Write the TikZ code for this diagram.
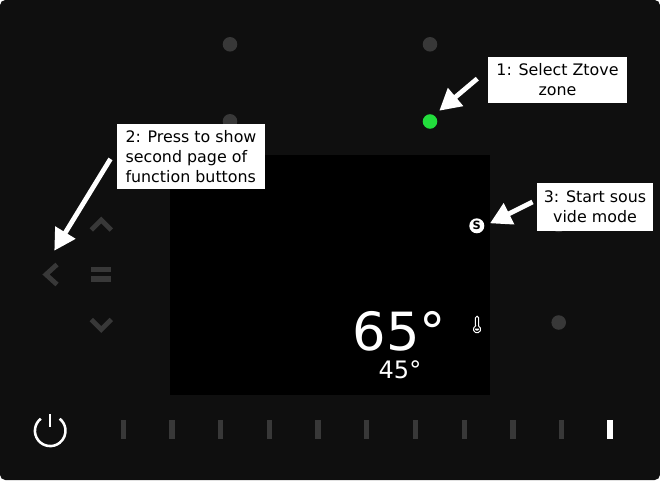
\documentclass[tikz,border=0pt]{standalone}
\usepackage{fontspec}
\setmainfont{DejaVu Sans}
\usepackage{tikz}
\usetikzlibrary{arrows.meta}
\definecolor{panelgray}{HTML}{0F0F0F}
\definecolor{keygray}{HTML}{383838}
\definecolor{zonegreen}{HTML}{22DD3C}
\tikzset{note/.style = {fill = white, text = black, inner sep = 0, font = \fontsize{11.9}{15}\selectfont, align = center}}
\tikzset{callout/.style = {-{Triangle[length = 16, width = 17]}, draw = white, line width = 3.6}}
\tikzset{hob/.style = {fill = keygray, circle, inner sep = 0, minimum size = 10.9}}
\tikzset{chevron/.style = {draw = keygray, line width = 3.6, line cap = butt, miter limit = 10}}
\tikzset{bar/.style = {fill = keygray, inner sep = 0, minimum width = 4, minimum height = 14.5}}

\begin{document}
\begin{tikzpicture}[x = 0.75pt, y = -0.75pt]
      \useasboundingbox (0, 0) rectangle (660, 480);
      \fill [white] (0, 0) rectangle (660, 480);
      \fill [panelgray, rounded corners = 4] (0, 0) rectangle (660, 480);
      \fill [black] (170, 155) rectangle (490, 395);

      \node [hob] (zoneA) at (230, 44.3) {};
      \node [hob] (zoneB) at (430, 44.3) {};
      \node [hob] (zoneC) at (230, 121.3) {};
      \node [hob, fill = zonegreen] (zoneD) at (430, 121.5) {};
      \node [hob] (zoneE) at (558.7, 225) {};
      \node [hob] (zoneF) at (558.7, 322.5) {};

      \draw [chevron] (91.3, 230) -- (101.3, 220) -- (111.3, 230);
      \draw [chevron] (91.3, 319.5) -- (101.3, 329.5) -- (111.3, 319.5);
      \draw [chevron] (57, 264.5) -- (46, 274.5) -- (57, 284.5);
      \fill [keygray] (91.3, 266.7) rectangle (111, 272.3);
      \fill [keygray] (91.3, 276) rectangle (111, 281.7);

      % power key
      \draw [white, line width = 1.9] (40.8, 418.7) arc [start angle = 232, end angle = -52, radius = 15.3];
      \draw [white, line width = 1.5] (50.2, 414) -- (50.2, 426.7);

      % slider
      \foreach \n in {123.3, 172, 220.7, 269.4, 318.1, 366.8, 415.5, 464.2, 512.9, 561.6}
        \node [bar] at (\n, 429.7) {};
      \node [bar, fill = white] (level) at (610, 429.7) {};

      \node [circle, fill = white, inner sep = 0, minimum size = 11.25, text = black, font = \bfseries\fontsize{8.5}{8.5}\selectfont] (sous) at (476.8, 225.8) {S};

      % thermometer
      \draw [white, line width = 0.75, fill = black] (475.4, 326) -- (475.4, 317.8) arc [start angle = 180, end angle = 360, radius = 1.6] -- (478.6, 326) arc [start angle = -64, end angle = 244, radius = 3.6] -- cycle;
      \fill [white] (474.8, 328.5) arc [start angle = 180, end angle = 0, radius = 2.2] -- cycle;

      \node [text = white, inner sep = 0, font = \fontsize{39.5}{39.5}\selectfont] (temp) at (399.5, 331) {65°};
      \node [text = white, inner sep = 0, font = \fontsize{18}{18}\selectfont] (preset) at (400, 370) {45°};

      \node [note, minimum width = 104, minimum height = 34.5] (selectnote) at (557.5, 79.5) {1: Select Ztove\\zone};
      \node [note, minimum width = 111, minimum height = 48.75, align = left] (pagenote) at (191, 156.5) {2: Press to show\\second page of\\function buttons};
      \node [note, minimum width = 87, minimum height = 36] (sousnote) at (595, 207) {3: Start sous\\vide mode};

      \coordinate (selecttip) at (439.3, 110.7);
      \coordinate (pagetip) at (54.3, 250.7);
      \coordinate (soustip) at (490, 223.3);
      \draw [callout, shorten < = 10.4] (selectnote.172.2) -- (selecttip);
      \draw [callout, shorten < = 9] (pagenote.174) -- (pagetip);
      \draw [callout, shorten < = 3.5] (sousnote.173.3) -- (soustip);
    \end{tikzpicture}
\end{document}
